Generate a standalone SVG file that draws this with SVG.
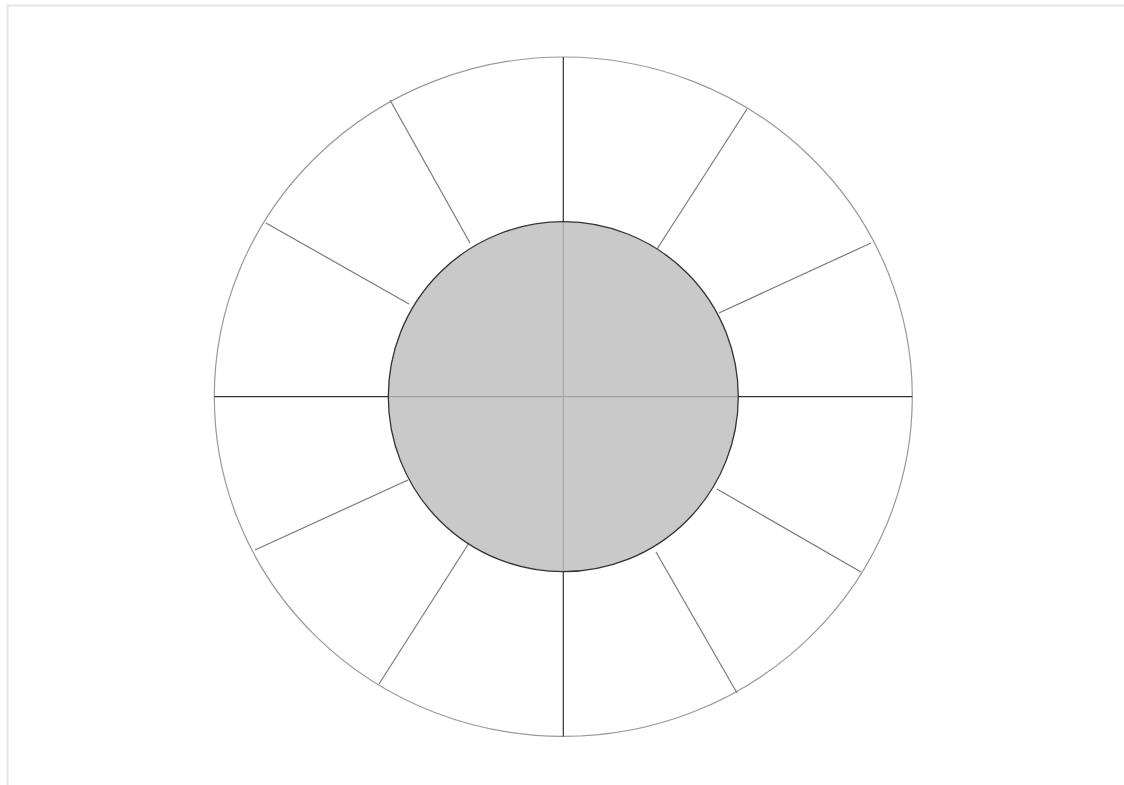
<svg xmlns="http://www.w3.org/2000/svg" width="1124" height="785" viewBox="0 0 1124 785">
<style>
.frame{fill:none;stroke:#e6e6e6;stroke-width:2}
.outer{fill:#fff;stroke:#9a9a9a;stroke-width:1.2}
.spoke{stroke:#7a7a7a;stroke-width:1.2}
.axis{stroke:#333;stroke-width:1.2}
.inner{fill:#bdbdbd;fill-opacity:0.82;stroke:#333;stroke-width:1.3}
</style>
<rect width="1124" height="785" fill="#fff"/>
<path class="frame" d="M7.5,790 V5.5 H1130"/>
<g id="outer-ring">
<ellipse class="outer" cx="563.3" cy="396.7" rx="349" ry="339.7"/>
</g>
<g id="connectors">
<line class="axis" x1="563.3" y1="57" x2="563.3" y2="736.4"/>
<line class="axis" x1="214.3" y1="396.7" x2="912.3" y2="396.7"/>
<line class="spoke" x1="390" y1="100" x2="470" y2="243"/>
<line class="spoke" x1="747" y1="109" x2="657" y2="249"/>
<line class="spoke" x1="871" y1="243" x2="719" y2="313"/>
<line class="spoke" x1="266" y1="223" x2="409" y2="304"/>
<line class="spoke" x1="255" y1="550" x2="408" y2="480"/>
<line class="spoke" x1="379" y1="684" x2="469" y2="543"/>
<line class="spoke" x1="737" y1="693" x2="656" y2="552"/>
<line class="spoke" x1="861" y1="572" x2="717" y2="489"/>
</g>
<g id="hub">
<circle class="inner" cx="563.3" cy="396.7" r="175"/>
</g>
</svg>
